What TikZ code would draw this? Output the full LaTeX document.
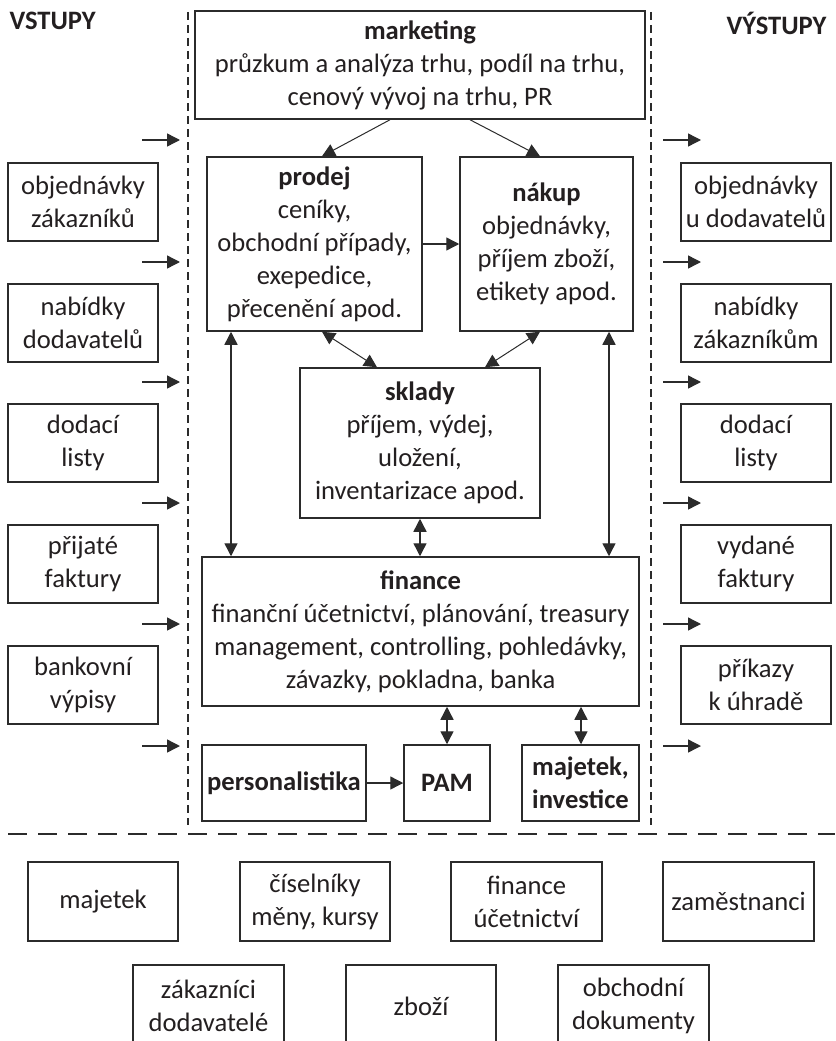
\documentclass[tikz,border=0pt]{standalone}
\usepackage{fontspec}
\setmainfont{Carlito}
\usetikzlibrary{arrows.meta}
\definecolor{ink}{HTML}{231F20}
\definecolor{edge}{HTML}{2B2B2B}
\begin{document}
\begin{tikzpicture}[x=1pt,y=-1pt,
  font=\fontsize{26.6}{33}\selectfont, text=ink,
  box/.style={draw=edge, line width=1.5pt, inner sep=0pt, align=center},
  arr/.style={draw=edge, line width=1.4pt, -{Triangle[length=13pt,width=13pt]}},
  dbl/.style={draw=edge, line width=1.4pt, {Triangle[length=13pt,width=13pt]}-{Triangle[length=13pt,width=13pt]}},
  thin/.style={line width=1pt}]
\useasboundingbox (0,0) rectangle (835,1041);
\clip (0,0) rectangle (835,1041);

% headings
\node[anchor=west, font=\fontsize{26.6}{33}\selectfont\bfseries] (vstupy) at (6,21) {VSTUPY};
\node[anchor=east, font=\fontsize{26.6}{33}\selectfont\bfseries] (vystupy) at (830,23) {VÝSTUPY};

% system boundary
\draw[edge, line width=1.3pt, dash pattern=on 8pt off 5pt] (188,12) -- (188,825);
\draw[edge, line width=1.3pt, dash pattern=on 8pt off 5pt] (651,12) -- (651,825);
\draw[edge, line width=2pt, dash pattern=on 19pt off 11pt] (8,834) -- (835,834);

% core modules
\node[box, minimum width=450pt, minimum height=108pt] (mkt) at (420,65)
  {\textbf{marketing}\\průzkum a analýza trhu, podíl na trhu,\\cenový vývoj na trhu, PR};
\node[box, minimum width=215pt, minimum height=174pt] (prodej) at (314.5,244)
  {\textbf{prodej}\\ceníky,\\obchodní případy,\\exepedice,\\přecenění apod.};
\node[box, minimum width=173pt, minimum height=174pt] (nakup) at (546.5,244)
  {\textbf{nákup}\\objednávky,\\příjem zboží,\\etikety apod.};
\node[box, minimum width=240pt, minimum height=150pt] (sklady) at (420,443)
  {\textbf{sklady}\\příjem, výdej,\\uložení,\\inventarizace apod.};
\node[box, minimum width=437pt, minimum height=149pt] (fin) at (420.5,631.5)
  {\textbf{finance}\\finanční účetnictví, plánování, treasury\\management, controlling, pohledávky,\\závazky, pokladna, banka};
\node[box, minimum width=164pt, minimum height=76pt] (person) at (284,783) {\textbf{personalistika}};
\node[box, minimum width=86pt, minimum height=76pt] (pam) at (447,783) {\textbf{PAM}};
\node[box, minimum width=117pt, minimum height=76pt] (majinv) at (580.5,783) {\textbf{majetek,}\\\textbf{investice}};

% links between modules
\draw[arr, thin] ([xshift=-30pt]mkt.south) -- ([xshift=7.5pt]prodej.north);
\draw[arr, thin] ([xshift=50pt]mkt.south) -- ([xshift=-6.5pt]nakup.north);
\draw[arr] (prodej.east) -- (nakup.west);
\draw[dbl, thin] ([xshift=7.5pt]prodej.south) -- ([xshift=-43pt]sklady.north);
\draw[dbl, thin] ([xshift=-6.5pt]nakup.south) -- ([xshift=65pt]sklady.north);
\draw[dbl] ([xshift=-83.5pt]prodej.south) -- ([xshift=-189.5pt]fin.north);
\draw[dbl] ([xshift=62.5pt]nakup.south) -- ([xshift=188.5pt]fin.north);
\draw[dbl] (sklady.south) -- ([xshift=-0.5pt]fin.north);
\draw[dbl] ([xshift=26.5pt]fin.south) -- (pam.north);
\draw[dbl] ([xshift=160.5pt]fin.south) -- ([xshift=0.5pt]majinv.north);
\draw[arr] (person.east) -- (pam.west);

% inputs
\node[box, minimum width=150pt, minimum height=78pt] (in1) at (83,202) {objednávky\\zákazníků};
\node[box, minimum width=150pt, minimum height=78pt] (in2) at (83,323) {nabídky\\dodavatelů};
\node[box, minimum width=150pt, minimum height=78pt] (in3) at (83,443) {dodací\\listy};
\node[box, minimum width=150pt, minimum height=78pt] (in4) at (83,564) {přijaté\\faktury};
\node[box, minimum width=150pt, minimum height=78pt] (in5) at (83,685) {bankovní\\výpisy};

% outputs
\node[box, minimum width=150pt, minimum height=78pt] (out1) at (756,202) {objednávky\\u dodavatelů};
\node[box, minimum width=150pt, minimum height=78pt] (out2) at (756,323) {nabídky\\zákazníkům};
\node[box, minimum width=150pt, minimum height=78pt] (out3) at (756,443) {dodací\\listy};
\node[box, minimum width=150pt, minimum height=78pt] (out4) at (756,564) {vydané\\faktury};
\node[box, minimum width=150pt, minimum height=78pt] (out5) at (756,685) {příkazy\\k úhradě};

% flow markers on both boundaries
\foreach \k/\yy in {1/140,2/262,3/382,4/503,5/624,6/746} {
  \coordinate (ia\k) at (142,\yy);
  \coordinate (ib\k) at (180,\yy);
  \coordinate (oa\k) at (663,\yy);
  \coordinate (ob\k) at (701,\yy);
  \draw[arr] (ia\k) -- (ib\k);
  \draw[arr] (oa\k) -- (ob\k);
}

% master data
\node[box, minimum width=150pt, minimum height=79pt] (d1) at (103,901.5) {majetek};
\node[box, minimum width=150pt, minimum height=79pt] (d2) at (315,901.5) {číselníky\\měny, kursy};
\node[box, minimum width=151pt, minimum height=79pt] (d3) at (526.5,901.5) {finance\\účetnictví};
\node[box, minimum width=151pt, minimum height=79pt] (d4) at (738.5,901.5) {zaměstnanci};
\node[box, minimum width=151pt, minimum height=82pt] (d5) at (208.5,1006) {zákazníci\\dodavatelé};
\node[box, minimum width=150pt, minimum height=82pt] (d6) at (421,1006) {zboží};
\node[box, minimum width=151pt, minimum height=82pt] (d7) at (633.5,1006) {obchodní\\dokumenty};
\end{tikzpicture}
\end{document}
